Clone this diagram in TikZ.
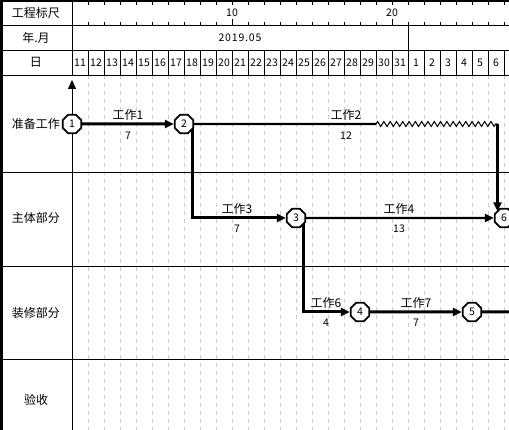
\documentclass[tikz,border=0pt]{standalone}
\usepackage{fontspec}
\setmainfont{Noto Sans CJK SC}
\usetikzlibrary{arrows.meta,shapes.geometric,decorations.pathmorphing,calc,backgrounds}
\begin{document}
\begin{tikzpicture}[x=1pt,y=-1pt,
  lab/.style={inner sep=0pt,font=\fontsize{12}{12}\selectfont},
  num/.style={inner sep=0pt,font=\fontsize{10.5}{11}\selectfont},
  evt/.style={regular polygon,regular polygon sides=8,minimum size=20pt,inner sep=0pt,draw,line width=1.8pt,fill=white,font=\fontsize{10.5}{11}\selectfont},
  crit/.style={line width=3pt},
  norm/.style={line width=2.2pt},
  tip/.style={-{Triangle[length=9pt,width=8pt]}},
  wave/.style={line width=1pt,decorate,decoration={zigzag,segment length=6.3pt,amplitude=2.5pt}},
  gridline/.style={gray!40,line width=0.8pt,dash pattern=on 4pt off 4pt},
  rule/.style={line width=0.9pt}
]
\useasboundingbox (0,0) rectangle (509,430);
% header texts
\node[lab] (h1) at (36,13) {工程标尺};
\node[lab] (h2) at (36,38) {年.月};
\node[lab] (h3) at (36,62.5) {日};
\node[num] (t10) at (232,13) {10};
\node[num] (t20) at (392,13) {20};
\node[num,font=\fontsize{10.5}{11}\selectfont\addfontfeatures{LetterSpace=8}] (mon) at (240,38) {2019.05};
\foreach \i in {0,...,26}{
  \pgfmathtruncatemacro\d{\i<21 ? 11+\i : \i-20}
  \node[num] (d\i) at ({80+16*\i},63) {\d};
}
% lane labels
\node[lab] (r1) at (36,124) {准备工作};
\node[lab] (r2) at (36,218) {主体部分};
\node[lab] (r3) at (36,313) {装修部分};
\node[lab] (r4) at (36,400) {验收};
% events
\node[evt] (n1) at (72,124) {1};
\node[evt] (n2) at (184,124) {2};
\node[evt] (n3) at (296,218) {3};
\node[evt] (n4) at (360,312) {4};
\node[evt] (n5) at (472,312) {5};
\node[evt] (n6) at (504,218) {6};
% activity labels
\node[lab] (a1) at (128,115) {工作1};
\node[num] (b1) at (128,135.5) {7};
\node[lab] (a2) at (346,115) {工作2};
\node[num] (b2) at (346,135.5) {12};
\node[lab] (a3) at (237,208.5) {工作3};
\node[num] (b3) at (237,229) {7};
\node[lab] (a4) at (399,208.5) {工作4};
\node[num] (b4) at (399,229) {13};
\node[lab] (a6) at (326,302.5) {工作6};
\node[num] (b6) at (326,323) {4};
\node[lab] (a7) at (416,302.5) {工作7};
\node[num] (b7) at (416,323) {7};
\coordinate (w2a) at (376,124);
\coordinate (w2b) at (497.5,124);
\coordinate (e5) at (509,312);
\coordinate (axb) at (72,430);
\coordinate (axt) at (72,80);
\begin{pgfonlayer}{background}
  \foreach \k in {1,...,27}
    \draw[gridline] ({72+16*\k},75.5) -- ({72+16*\k},430);
  \foreach \k in {1,...,27}{
    \draw[rule] ({72+16*\k},2) -- ++(0,3.5);
    \draw[rule] ({72+16*\k},25.5) -- ++(0,-3.5);
  }
  \foreach \k in {1,...,28}
    \draw[rule] ({72+16*\k},50) -- ({72+16*\k},75.5);
  \draw[rule] (232,25.5) -- (232,19);
  \draw[rule] (392,25.5) -- (392,19);
  \draw[rule] (408,25.5) -- (408,50);
  \foreach \y in {25.5,50,75.5,172,266,359.5}
    \draw[rule] (0,\y) -- (509,\y);
  \draw[line width=3pt] (1.5,0) -- (1.5,430);
  \draw[line width=2pt] (0,1) -- (509,1);
  \draw[rule] (72,0) -- (72,75.5);
  \draw[rule,tip] (axb) -- (axt);
  % connectors
  \draw[crit,tip] (n1) -- (n2);
  \draw[norm] (n2) -- (w2a);
  \draw[wave] (w2a) -- (w2b);
  \draw[norm,tip] (w2b) -- ($(n6.center)+(-6.5,-6.6)$);
  \draw[crit,tip] ([xshift=8pt]n2.center) |- (n3);
  \draw[norm,tip] (n3) -- (n6);
  \draw[crit,tip] ([xshift=7pt]n3.center) |- (n4);
  \draw[crit,tip] (n4) -- (n5);
  \draw[crit] (n5) -- (e5);
\end{pgfonlayer}
\end{tikzpicture}
\end{document}
